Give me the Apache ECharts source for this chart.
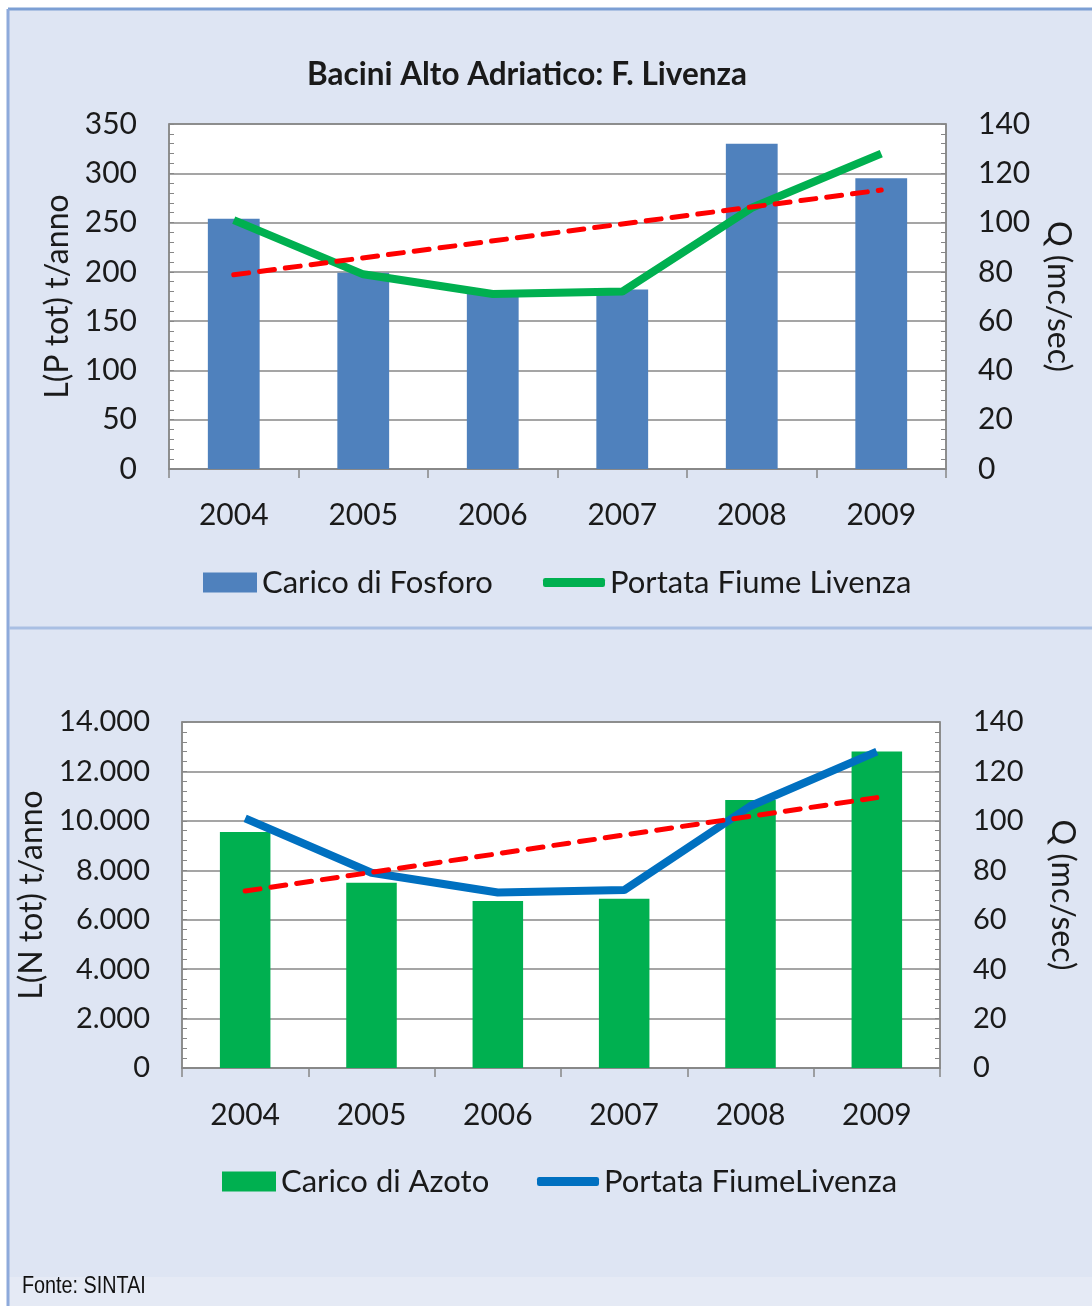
<!DOCTYPE html>
<html>
<head>
<meta charset="utf-8">
<script src="https://cdn.jsdelivr.net/npm/echarts@6/dist/echarts.min.js"></script>
<style>
  html, body { margin: 0; padding: 0; background: #ffffff; }
  #chart { width: 1092px; height: 1306px; }
</style>
</head>
<body>
<div id="chart"></div>
<script>
// anni
var anni = ['2004', '2005', '2006', '2007', '2008', '2009'];
// carico di fosforo t/anno
var fosforo = [254, 199, 179, 182, 330, 295];
// carico di azoto t/anno
var azoto = [9550, 7500, 6760, 6850, 10840, 12810];
// portata fiume Livenza mc/sec
var portata = [101, 79, 71, 72, 106, 128];
// linee di tendenza (estremi)
var trendP = [197, null, null, null, null, 283];
var trendN = [7160, null, null, null, null, 10940];

var myChart = echarts.init(document.getElementById('chart'));

var FONT = 'Lato';
var grigio = '#878787';

function fmtMigliaia(v) {
	return String(v).replace(/\B(?=(\d{3})+(?!\d))/g, '.');
}

function assey(opt) {
	return Object.assign({
		type: 'value',
		min: 0,
		nameLocation: 'middle',
		nameTextStyle: { fontFamily: FONT, fontSize: 32, color: '#1a1a1a' },
		axisLine: { show: true, lineStyle: { color: grigio, width: 1.5 } },
		axisTick: { show: true, inside: true, length: 5, lineStyle: { color: grigio } },
		minorTick: { show: true, splitNumber: 5, length: 5, lineStyle: { color: grigio } },
		axisLabel: { fontFamily: FONT, fontSize: 30, color: '#1a1a1a', margin: 32 },
		splitLine: { show: false }
	}, opt);
}

function assex(idx, size, margin) {
	return {
		type: 'category',
		gridIndex: idx,
		data: anni,
		axisLine: { lineStyle: { color: grigio, width: 1.5 } },
		axisTick: { show: true, length: 9, lineStyle: { color: grigio, width: 1.5 } },
		axisLabel: { fontFamily: FONT, fontSize: size, color: '#1a1a1a', margin: margin }
	};
}

var testoLegenda = { fontFamily: FONT, fontSize: 31, color: '#1a1a1a' };

var option = {
	backgroundColor: '#ffffff',
	animation: false,
	title: {
		text: 'Bacini Alto Adriatico: F. Livenza',
		left: 522,
		textAlign: 'center',
		top: 54,
		textStyle: { fontFamily: FONT, fontSize: 31.5, fontWeight: 'bold', color: '#1a1a1a' }
	},
	graphic: [
		{ type: 'rect', z: -10, silent: true, shape: { x: 8, y: 9, width: 1084, height: 1297 }, style: { fill: '#dee5f3' } },
		{ type: 'rect', z: -9, silent: true, shape: { x: 9, y: 1277, width: 1083, height: 29 }, style: { fill: '#e5eaf5' } },
		{ type: 'line', z: -5, silent: true, shape: { x1: 8, y1: 9, x2: 1092, y2: 9 }, style: { stroke: '#7c9fd4', lineWidth: 3 } },
		{ type: 'line', z: -5, silent: true, shape: { x1: 8, y1: 9, x2: 8, y2: 1306 }, style: { stroke: '#8eaadb', lineWidth: 3 } },
		{ type: 'line', z: -5, silent: true, shape: { x1: 9, y1: 628, x2: 1092, y2: 628 }, style: { stroke: '#a9bfe3', lineWidth: 3 } },
		{ type: 'text', x: 22, y: 1275, scaleX: 0.86, style: { text: 'Fonte: SINTAI', fontFamily: 'Liberation Sans', fontSize: 23, fill: '#111' } }
	],
	legend: [
		{ data: ['Carico di Fosforo'], left: 198, top: 562, icon: 'rect', itemWidth: 54, itemHeight: 20, itemGap: 6, textStyle: testoLegenda },
		{ data: ['Portata Fiume Livenza'], left: 538, top: 562, icon: 'roundRect', itemWidth: 62, itemHeight: 9, itemGap: 4, textStyle: testoLegenda },
		{ data: ['Carico di Azoto'], left: 217, top: 1161, icon: 'rect', itemWidth: 54, itemHeight: 20, itemGap: 6, textStyle: testoLegenda },
		{ data: ['Portata FiumeLivenza'], left: 532, top: 1161, icon: 'roundRect', itemWidth: 62, itemHeight: 9, itemGap: 4, textStyle: testoLegenda }
	],
	grid: [
		{ left: 169, right: 146, top: 124, height: 345, show: true, backgroundColor: '#ffffff', borderColor: grigio, borderWidth: 1.5 },
		{ left: 182, right: 152, top: 722, height: 346, show: true, backgroundColor: '#ffffff', borderColor: grigio, borderWidth: 1.5 }
	],
	xAxis: [assex(0, 30, 31), assex(1, 30, 32)],
	yAxis: [
		assey({ gridIndex: 0, max: 350, interval: 50, name: 'L(P tot) t/anno', nameGap: 95, position: 'left',
			splitLine: { show: true, lineStyle: { color: grigio, width: 1.5 } } }),
		assey({ gridIndex: 0, max: 140, interval: 20, name: 'Q (mc/sec)', nameGap: 96, nameRotate: -90, position: 'right' }),
		assey({ gridIndex: 1, max: 14000, interval: 2000, name: 'L(N tot) t/anno', nameGap: 129, position: 'left',
			axisLabel: { fontFamily: FONT, fontSize: 29, color: '#1a1a1a', margin: 32, formatter: fmtMigliaia },
			splitLine: { show: true, lineStyle: { color: grigio, width: 1.5 } } }),
		assey({ gridIndex: 1, max: 140, interval: 20, name: 'Q (mc/sec)', nameGap: 106, nameRotate: -90, position: 'right',
			axisLabel: { fontFamily: FONT, fontSize: 29, color: '#1a1a1a', margin: 33 } })
	],
	series: [
		{
			name: 'Carico di Fosforo', type: 'bar', xAxisIndex: 0, yAxisIndex: 0,
			data: fosforo, barWidth: '40%', itemStyle: { color: '#4f81bd' }
		},
		{
			name: 'Portata Fiume Livenza', type: 'line', xAxisIndex: 0, yAxisIndex: 1,
			data: portata, showSymbol: false, lineStyle: { color: '#00b050', width: 8 }, itemStyle: { color: '#00b050' }, z: 3
		},
		{
			name: 'trendP', type: 'line', xAxisIndex: 0, yAxisIndex: 0,
			data: trendP, connectNulls: true, showSymbol: false,
			lineStyle: { color: '#ff0000', width: 5, type: [15, 11], cap: 'round' }, z: 4
		},
		{
			name: 'Carico di Azoto', type: 'bar', xAxisIndex: 1, yAxisIndex: 2,
			data: azoto, barWidth: '40%', itemStyle: { color: '#00b050' }
		},
		{
			name: 'Portata FiumeLivenza', type: 'line', xAxisIndex: 1, yAxisIndex: 3,
			data: portata, showSymbol: false, lineStyle: { color: '#0070c0', width: 8 }, itemStyle: { color: '#0070c0' }, z: 3
		},
		{
			name: 'trendN', type: 'line', xAxisIndex: 1, yAxisIndex: 2,
			data: trendN, connectNulls: true, showSymbol: false,
			lineStyle: { color: '#ff0000', width: 5, type: [15, 11], cap: 'round' }, z: 4
		}
	]
};

myChart.setOption(option);
</script>
</body>
</html>
